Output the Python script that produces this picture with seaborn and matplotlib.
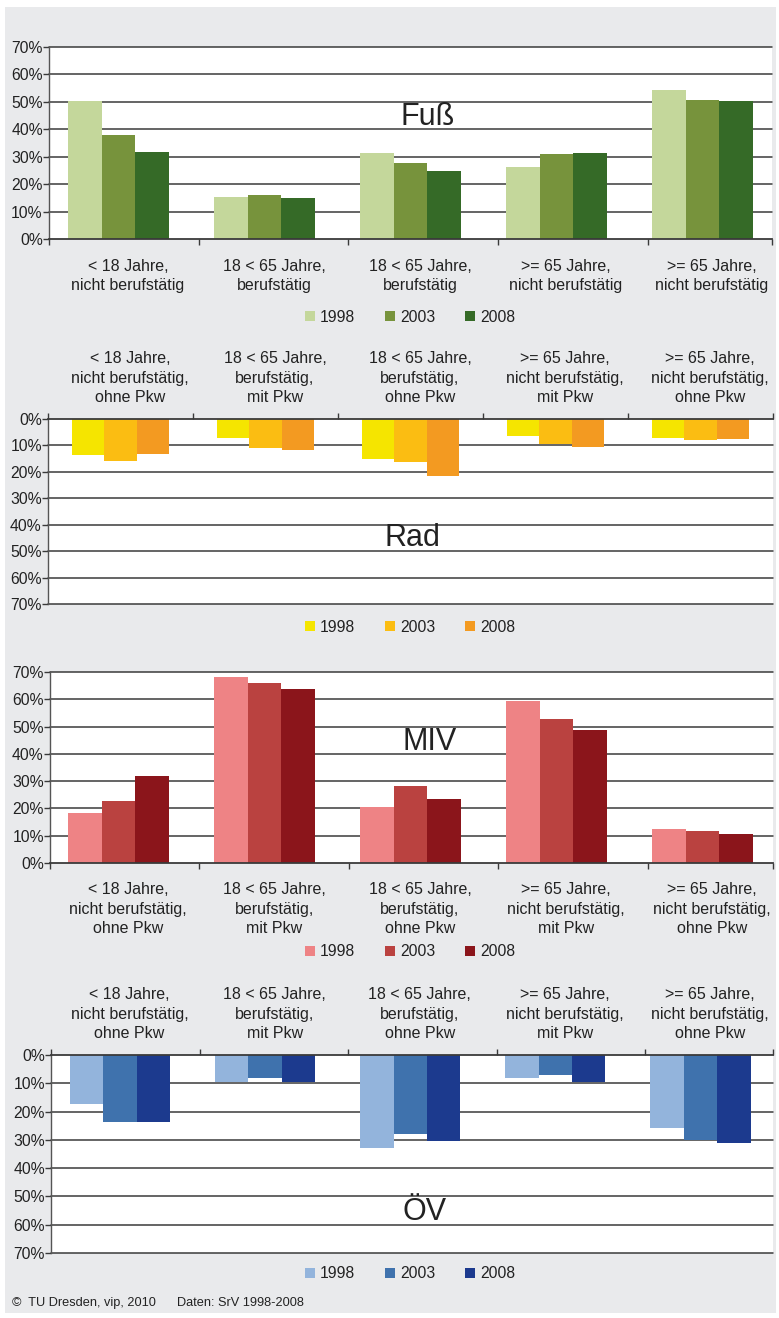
import numpy as np
import pandas as pd
import matplotlib
matplotlib.use("Agg")
import matplotlib.pyplot as plt
import seaborn as sns
from matplotlib.patches import Rectangle

# ---------------- data ----------------
jahre = ["1998", "2003", "2008"]

kategorien_fuss = [
    "< 18 Jahre,\nnicht berufstätig",
    "18 < 65 Jahre,\nberufstätig",
    "18 < 65 Jahre,\nberufstätig",
    ">= 65 Jahre,\nnicht berufstätig",
    ">= 65 Jahre,\nnicht berufstätig",
]
kategorien_lang = [
    "< 18 Jahre,\nnicht berufstätig,\nohne Pkw",
    "18 < 65 Jahre,\nberufstätig,\nmit Pkw",
    "18 < 65 Jahre,\nberufstätig,\nohne Pkw",
    ">= 65 Jahre,\nnicht berufstätig,\nmit Pkw",
    ">= 65 Jahre,\nnicht berufstätig,\nohne Pkw",
]

fuss_1998 = [50.4, 15.4, 31.4, 26.4, 54.4]
fuss_2003 = [38.0, 16.2, 27.7, 31.0, 50.7]
fuss_2008 = [31.8, 15.1, 24.8, 31.4, 50.4]

rad_1998 = [13.7, 7.2, 15.1, 6.4, 7.2]
rad_2003 = [15.8, 10.9, 16.2, 9.4, 7.9]
rad_2008 = [13.3, 11.7, 21.5, 10.6, 7.5]

miv_1998 = [18.4, 68.0, 20.6, 59.2, 12.5]
miv_2003 = [22.8, 65.8, 28.3, 52.9, 11.8]
miv_2008 = [32.0, 63.9, 23.5, 48.9, 10.7]

oev_1998 = [17.4, 9.6, 33.0, 8.2, 25.9]
oev_2003 = [23.8, 8.2, 28.0, 7.1, 29.9]
oev_2008 = [23.8, 9.6, 30.5, 9.6, 31.2]

y_ticks = [0, 10, 20, 30, 40, 50, 60, 70]

farben_fuss = ["#c4d79b", "#77933c", "#356a27"]
farben_rad = ["#f5e500", "#fbbd12", "#f39a21"]
farben_miv = ["#ee8385", "#ba4240", "#8b151b"]
farben_oev = ["#93b4dc", "#3f72ad", "#1c3a8e"]

# ---------------- style ----------------
sns.set_theme(style="white")
plt.rcParams["font.family"] = ["Liberation Sans", "DejaVu Sans"]

W, H = 779, 1318
fig = plt.figure(figsize=(W / 100, H / 100), dpi=100)
fig.patch.set_facecolor("white")
fig.add_artist(Rectangle((5 / W, 1 - 1313 / H), (776 - 5) / W, (1313 - 7) / H,
                         transform=fig.transFigure, facecolor="#e9eaec",
                         edgecolor="none", zorder=-10))

GRID = "#3a3a3a"
TXT = "#222222"


def px_axes(left, top, right, bottom):
    return fig.add_axes([left / W, 1 - bottom / H, (right - left) / W, (bottom - top) / H])


def panel(rect, werte, farben, labels, invert, xlim, dividers, width, pad,
          titel, titel_xy, legend_y):
    ax = px_axes(*rect)
    ax.set_facecolor("white")
    df = pd.DataFrame({
        "gruppe": np.tile(np.arange(5), 3),
        "jahr": np.repeat(jahre, 5),
        "anteil": np.concatenate([np.asarray(w, dtype=float) for w in werte]),
    })
    sns.barplot(data=df, x="gruppe", y="anteil", hue="jahr", hue_order=jahre,
                palette=farben, width=width, saturation=1, ax=ax,
                legend=False, errorbar=None, zorder=2,
                linewidth=0, edgecolor="none")
    for v in y_ticks[1:]:
        ax.axhline(v, color=GRID, lw=1.1, zorder=0.5, clip_on=False)
    if invert:
        ax.set_ylim(70, 0)
    else:
        ax.set_ylim(0, 70)
    ax.set_xlim(*xlim)
    ax.set_yticks(y_ticks)
    ax.set_yticklabels([f"{v}%" for v in y_ticks])
    ax.tick_params(axis="y", length=4, width=1, color=GRID, pad=0.5,
                   labelsize=11.3, labelcolor=TXT, left=True)
    ax.set_xticks(np.arange(5) + 0.065)
    ax.set_xticklabels(labels)
    ax.set_xticks(dividers, minor=True)
    ax.set_xlabel("")
    ax.set_ylabel("")
    for s in ax.spines.values():
        s.set_visible(False)
    ax.spines["left"].set_visible(True)
    ax.spines["left"].set_color("#555555")
    ax.spines["left"].set_linewidth(1.0)
    if invert:
        ax.spines["top"].set_visible(True)
        ax.spines["top"].set_color(GRID)
        ax.spines["top"].set_linewidth(1.3)
        ax.tick_params(axis="x", which="both", top=True, bottom=False,
                       labeltop=True, labelbottom=False)
    else:
        ax.spines["bottom"].set_visible(True)
        ax.spines["bottom"].set_color(GRID)
        ax.spines["bottom"].set_linewidth(1.3)
        ax.tick_params(axis="x", which="both", top=False, bottom=True,
                       labeltop=False, labelbottom=True)
    ax.tick_params(axis="x", which="major", length=0, pad=pad,
                   labelsize=11.5, labelcolor=TXT)
    ax.tick_params(axis="x", which="minor", length=4.5, width=1, color=GRID)
    for lbl in ax.get_xticklabels():
        lbl.set_linespacing(1.36)
    # title inside the chart
    fig.text(titel_xy[0] / W, 1 - titel_xy[1] / H, titel, fontsize=22,
             ha="center", va="center", color=TXT)
    # legend
    handles = [Rectangle((0, 0), 1, 1, facecolor=c, edgecolor="none") for c in farben]
    fig.legend(handles, jahre, loc="center", bbox_to_anchor=(410 / W, 1 - legend_y / H),
               ncol=3, frameon=False, fontsize=11.3, handlelength=0.65,
               handleheight=0.65, handletextpad=0.3, columnspacing=1.9,
               borderpad=0, borderaxespad=0, labelcolor=TXT)
    return ax


panel((49, 47, 772, 239), [fuss_1998, fuss_2003, fuss_2008], farben_fuss,
      kategorien_fuss, False, (-0.476, 4.476),
      [-0.476, 0.55, 1.57, 2.6, 3.63, 4.476], 0.69, 14.5,
      "Fuß", (428, 117), 317)

panel((48, 419, 773, 604), [rad_1998, rad_2003, rad_2008], farben_rad,
      kategorien_lang, True, (-0.5, 4.5),
      [-0.5, 0.5, 1.5, 2.5, 3.5, 4.5], 0.67, 10,
      "Rad", (412, 538), 627)

panel((50, 672, 772.5, 863), [miv_1998, miv_2003, miv_2008], farben_miv,
      kategorien_lang, False, (-0.47, 4.48),
      [-0.47, 0.55, 1.58, 2.6, 3.63, 4.48], 0.69, 14,
      "MIV", (430, 742), 952)

panel((51, 1055, 773, 1253), [oev_1998, oev_2003, oev_2008], farben_oev,
      kategorien_lang, True, (-0.476, 4.5),
      [-0.476, 0.55, 1.57, 2.6, 3.62, 4.5], 0.69, 10,
      "ÖV", (425, 1212), 1274)

fig.text(12 / W, 1 - 1303 / H, "©  TU Dresden, vip, 2010", fontsize=9.2,
         ha="left", va="center", color=TXT)
fig.text(177 / W, 1 - 1303 / H, "Daten: SrV 1998-2008", fontsize=9.2,
         ha="left", va="center", color=TXT)

fig.savefig("out.png", dpi=100, facecolor=fig.get_facecolor())
